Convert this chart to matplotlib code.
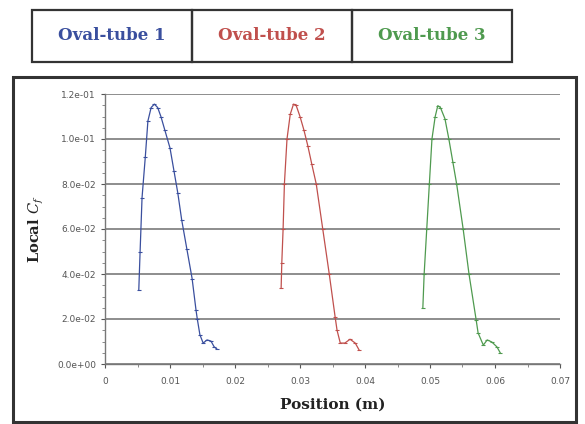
import matplotlib
matplotlib.use("Agg")
import matplotlib.pyplot as plt
from matplotlib.patches import Rectangle
from matplotlib.ticker import MultipleLocator, FuncFormatter

# Data (position in m, local Cf)
tube1_x = [0.0052, 0.0054, 0.0057, 0.0062, 0.0066, 0.0071, 0.0076, 0.0081, 0.0086,
           0.0092, 0.0100, 0.0106, 0.0112, 0.0118, 0.0126, 0.0134, 0.0140, 0.0142,
           0.0146, 0.0151, 0.0157, 0.0163, 0.0168, 0.0172]
tube1_cf = [0.033, 0.050, 0.074, 0.092, 0.108, 0.114, 0.1155, 0.114, 0.110,
            0.104, 0.096, 0.086, 0.076, 0.064, 0.051, 0.038, 0.024, 0.020,
            0.013, 0.0093, 0.0107, 0.0102, 0.0076, 0.0067]

tube2_x = [0.0271, 0.0272, 0.0274, 0.0276, 0.0280, 0.0285, 0.0290, 0.0294, 0.0300,
           0.0306, 0.0312, 0.0318, 0.0325, 0.0335, 0.0345, 0.0354, 0.0357, 0.0362,
           0.0369, 0.0377, 0.0385, 0.0391]
tube2_cf = [0.034, 0.045, 0.060, 0.080, 0.100, 0.111, 0.1155, 0.115, 0.110,
            0.104, 0.097, 0.089, 0.080, 0.060, 0.040, 0.021, 0.015, 0.0093,
            0.0093, 0.011, 0.0093, 0.0062]

tube3_x = [0.0489, 0.0491, 0.0495, 0.0499, 0.0503, 0.0508, 0.0512, 0.0516, 0.0523,
           0.0529, 0.0535, 0.0541, 0.0551, 0.0560, 0.0571, 0.0574, 0.0582, 0.0588,
           0.0595, 0.0603, 0.0608]
tube3_cf = [0.025, 0.040, 0.060, 0.080, 0.100, 0.110, 0.1148, 0.114, 0.109,
            0.100, 0.090, 0.080, 0.060, 0.040, 0.0196, 0.0138, 0.0084, 0.0107,
            0.0098, 0.0076, 0.005]

labels = ["Oval-tube 1", "Oval-tube 2", "Oval-tube 3"]
colors = ["#3a4f9e", "#c0504d", "#4f9a4f"]

x_ticks = [0, 0.01, 0.02, 0.03, 0.04, 0.05, 0.06, 0.07]
y_ticks = [0, 0.02, 0.04, 0.06, 0.08, 0.10, 0.12]

plt.rcParams["mathtext.fontset"] = "dejavuserif"

W, H = 585, 424
fig = plt.figure(figsize=(W / 100, H / 100), dpi=100)
fig.patch.set_facecolor("white")

# outer frame around the chart
fig.patches.append(Rectangle((13 / W, 1 - 422 / H), (576 - 13) / W, (422 - 77) / H,
                             transform=fig.transFigure, fill=False,
                             edgecolor="#333333", linewidth=2.2))

# legend box on top
leg_left, leg_right, leg_top, leg_bot = 32, 512, 10, 62
cell_w = (leg_right - leg_left) / 3
for i, (lab, col) in enumerate(zip(labels, colors)):
    x0 = leg_left + i * cell_w
    fig.patches.append(Rectangle((x0 / W, 1 - leg_bot / H), cell_w / W,
                                 (leg_bot - leg_top) / H, transform=fig.transFigure,
                                 fill=False, edgecolor="#333333", linewidth=1.6))
    fig.text((x0 + cell_w / 2) / W, 1 - (leg_top + leg_bot) / 2 / H, lab,
             color=col, fontsize=12, fontweight="bold", family="DejaVu Serif",
             ha="center", va="center")

ax = fig.add_axes([105 / W, 1 - 364 / H, (560 - 105) / W, (364 - 94) / H])
for xs, ys, col in zip([tube1_x, tube2_x, tube3_x], [tube1_cf, tube2_cf, tube3_cf], colors):
    ax.plot(xs, ys, color=col, linewidth=0.9, marker="_", markersize=3,
            markeredgewidth=0.8)

ax.set_xlim(0, 0.07)
ax.set_ylim(0, 0.12)
ax.set_xticks(x_ticks)
ax.set_yticks(y_ticks)
ax.xaxis.set_minor_locator(MultipleLocator(0.005))
ax.yaxis.set_minor_locator(MultipleLocator(0.005))
ax.xaxis.set_major_formatter(FuncFormatter(lambda v, p: "0" if v == 0 else f"{v:g}"))
ax.yaxis.set_major_formatter(FuncFormatter(lambda v, p: f"{v:.1e}"))
ax.tick_params(axis="both", which="major", labelsize=6.5, colors="#555555",
               length=3, width=0.8, direction="out")
ax.tick_params(axis="both", which="minor", length=2, width=0.6, colors="#777777")
ax.tick_params(axis="x", pad=6)
ax.grid(axis="y", color="#7a7a7a", linewidth=1.2)
ax.set_axisbelow(True)
for s in ["top", "right"]:
    ax.spines[s].set_visible(False)
for s in ["left", "bottom"]:
    ax.spines[s].set_color("#777777")
    ax.spines[s].set_linewidth(1.0)

ax.set_xlabel("Position (m)", fontsize=11, fontweight="bold", family="DejaVu Serif",
              color="#222222", labelpad=9)
ax.set_ylabel("Local $C_f$", fontsize=10.5, fontweight="bold", family="DejaVu Serif",
              color="#222222", labelpad=8)

fig.savefig("out.png", dpi=100)
